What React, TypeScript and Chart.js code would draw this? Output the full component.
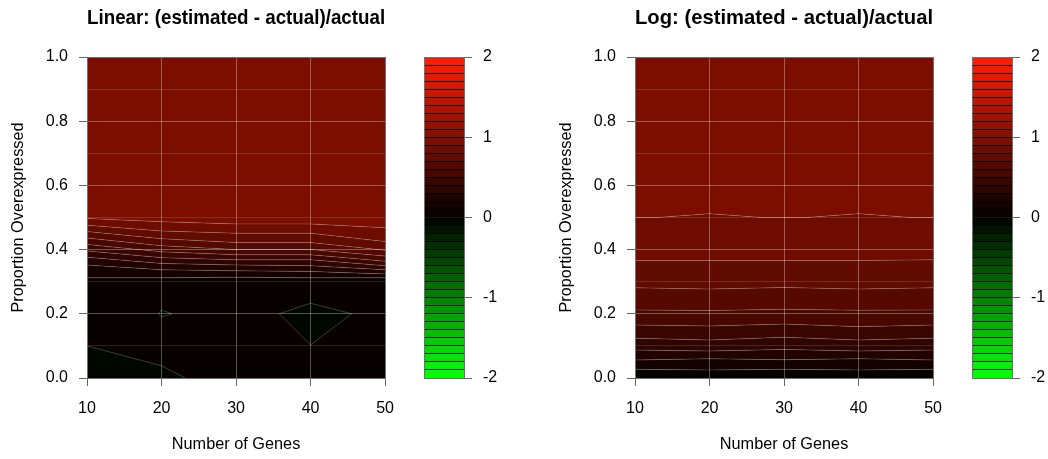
import React, { useEffect, useRef } from "react";
import { Chart, registerables } from "chart.js";

Chart.register(...registerables);

const FONT = "'Liberation Sans', Arial, Helvetica, sans-serif";

// ---------- data ----------
const GENES = [10, 20, 30, 40, 50];
const CONTOUR_LEVELS = [0.9, 0.8, 0.7, 0.6, 0.5, 0.4, 0.3, 0.2, 0.1];

// Linear panel: y (proportion) of each contour level at GENES
const LIN_C09 = [0.497, 0.487, 0.48, 0.48, 0.468];
const LIN_C08 = [0.476, 0.458, 0.451, 0.451, 0.425];
const LIN_C07 = [0.456, 0.434, 0.422, 0.422, 0.398];
const LIN_C06 = [0.436, 0.412, 0.4, 0.4, 0.38];
const LIN_C05 = [0.416, 0.393, 0.384, 0.384, 0.364];
const LIN_C04 = [0.396, 0.375, 0.368, 0.368, 0.35];
const LIN_C03 = [0.376, 0.357, 0.352, 0.35, 0.337];
const LIN_C02 = [0.352, 0.337, 0.334, 0.332, 0.324];
const LIN_C01 = [0.312, 0.312, 0.314, 0.312, 0.312];

// Linear panel: small negative pockets
const POCKET_VALUE = -0.05;
const DIAMOND_X = [35.8, 40, 45.5, 40, 35.8];
const DIAMOND_Y = [0.2, 0.233, 0.2, 0.103, 0.2];
const SMALL_X = [19.6, 20, 21.4, 20, 19.6];
const SMALL_Y = [0.2, 0.212, 0.2, 0.19, 0.2];
const CORNER_X = [10, 20, 23.2];
const CORNER_Y = [0.1, 0.038, 0];

// Log panel
const LOG_BUMP_X = [10, 13, 20, 27, 33, 40, 47, 50];
const LOG_C09 = [0.5, 0.5, 0.512, 0.5, 0.5, 0.512, 0.5, 0.5];
const LOG_C08 = [0.366, 0.366, 0.366, 0.366, 0.368];
const LOG_C07 = [0.281, 0.277, 0.282, 0.277, 0.281];
const LOG_C06 = [0.212, 0.21, 0.214, 0.211, 0.212];
const LOG_C05 = [0.165, 0.162, 0.168, 0.16, 0.165];
const LOG_C04 = [0.124, 0.118, 0.127, 0.118, 0.124];
const LOG_C03 = [0.087, 0.084, 0.089, 0.084, 0.087];
const LOG_C02 = [0.056, 0.06, 0.057, 0.06, 0.056];
const LOG_C01 = [0.027, 0.025, 0.027, 0.025, 0.027];

// Colour key breaks
const KEY_BREAKS = [
  -2, -1.9, -1.8, -1.7, -1.6, -1.5, -1.4, -1.3, -1.2, -1.1, -1, -0.9, -0.8, -0.7,
  -0.6, -0.5, -0.4, -0.3, -0.2, -0.1, 0, 0.1, 0.2, 0.3, 0.4, 0.5, 0.6, 0.7, 0.8,
  0.9, 1, 1.1, 1.2, 1.3, 1.4, 1.5, 1.6, 1.7, 1.8, 1.9, 2,
];

const LIN_TITLE = "Linear: (estimated - actual)/actual";
const LOG_TITLE = "Log: (estimated - actual)/actual";
const X_TITLE = "Number of Genes";
const Y_TITLE = "Proportion Overexpressed";

// ---------- style ----------
const SEAM = "rgba(255,255,255,0.22)";
const GRID_MAJOR = "rgba(255,255,255,0.32)";
const GRID_MINOR = "rgba(255,255,255,0.13)";
const TICK_COL = "#666";
const FRAME_COL = "#707070";
const H = 459;

function bandColor(v: number): string {
  const i = Math.min(39, Math.max(0, Math.floor((v + 2) / 0.1 + 1e-6)));
  const s = (i / 39) * 2 - 1;
  if (s >= 0) return `rgb(${Math.round(255 * s)},${Math.round(255 * s * 0.11)},0)`;
  return `rgb(0,${Math.round(-255 * s)},0)`;
}

const framePlugin = {
  id: "frame",
  afterDraw(chart: any) {
    const { ctx, chartArea: a } = chart;
    ctx.save();
    ctx.strokeStyle = FRAME_COL;
    ctx.lineWidth = 1;
    const l = Math.round(a.left) + 0.5;
    const t = Math.round(a.top) + 0.5;
    const r = Math.round(a.right) + 0.5;
    const b = Math.round(a.bottom) + 0.5;
    ctx.strokeRect(l, t, r - l, b - t);
    ctx.restore();
  },
};

type Contour = { xs: number[]; ys: number[] };
type Pocket = { xs: number[]; ys: number[]; fill: string };

function pts(xs: number[], ys: number[]) {
  return xs.map((x, i) => ({ x, y: ys[i] }));
}

function plotConfig(title: string, contours: Contour[], pockets: Pocket[]): any {
  const datasets: any[] = [];
  datasets.push({
    data: pts(GENES, GENES.map(() => 1)),
    showLine: true,
    borderColor: "transparent",
    fill: false,
  });
  contours.forEach((c, k) => {
    datasets.push({
      data: pts(c.xs, c.ys),
      showLine: true,
      borderColor: SEAM,
      borderWidth: 0.8,
      fill: "-1",
      backgroundColor: bandColor(CONTOUR_LEVELS[k] + 0.05),
    });
  });
  datasets.push({
    data: pts(GENES, GENES.map(() => 0)),
    showLine: true,
    borderColor: "transparent",
    fill: "-1",
    backgroundColor: bandColor(CONTOUR_LEVELS[CONTOUR_LEVELS.length - 1] - 0.05),
  });
  pockets.forEach((p) => {
    datasets.push({
      data: pts(p.xs, p.ys),
      showLine: true,
      borderColor: "rgba(255,255,255,0.28)",
      borderWidth: 0.8,
      fill: p.fill,
      backgroundColor: bandColor(POCKET_VALUE),
      order: -1,
    });
  });

  const isMajor = (v: number) => Math.round(v * 10) % 2 === 0;

  return {
    type: "scatter",
    data: { datasets },
    plugins: [framePlugin],
    options: {
      responsive: false,
      animation: false,
      events: [],
      layout: { padding: { left: 0, right: 0, top: 0, bottom: 0 } },
      elements: { point: { radius: 0 }, line: { tension: 0 } },
      plugins: {
        legend: { display: false },
        tooltip: { enabled: false },
        title: {
          display: true,
          text: title,
          fullSize: false,
          color: "#000",
          font: { family: FONT, size: 21, weight: "bold", lineHeight: 1.2 },
          padding: { top: 5.4, bottom: 26.4 },
        },
      },
      scales: {
        x: {
          type: "linear",
          min: 10,
          max: 50,
          ticks: {
            stepSize: 10,
            padding: 13,
            color: "#000",
            maxRotation: 0,
            autoSkip: false,
            font: { family: FONT, size: 16 },
          },
          grid: { z: 1, color: GRID_MAJOR, tickColor: TICK_COL, tickLength: 8, lineWidth: 1 },
          border: { display: false },
          title: {
            display: true,
            text: X_TITLE,
            color: "#000",
            font: { family: FONT, size: 16.3, lineHeight: 1.2 },
            padding: { top: 0, bottom: 4.4 },
          },
          afterFit: (s: any) => {
            s.height = 81;
          },
        },
        y: {
          type: "linear",
          min: 0,
          max: 1,
          ticks: {
            stepSize: 0.1,
            padding: 11,
            color: "#000",
            autoSkip: false,
            font: { family: FONT, size: 16 },
            callback: (v: any) => (isMajor(Number(v)) ? Number(v).toFixed(1) : ""),
          },
          grid: {
            z: 1,
            lineWidth: 1,
            tickLength: 8,
            color: (c: any) => (isMajor(c.tick ? c.tick.value : 0) ? GRID_MAJOR : GRID_MINOR),
            tickColor: (c: any) => (isMajor(c.tick ? c.tick.value : 0) ? TICK_COL : "transparent"),
          },
          border: { display: false },
          title: {
            display: true,
            text: Y_TITLE,
            color: "#000",
            font: { family: FONT, size: 16.3, lineHeight: 1.2 },
            padding: { top: 9, bottom: 0 },
          },
          afterFit: (s: any) => {
            s.width = 87;
          },
        },
      },
    },
  };
}

function keyConfig(axisWidth: number): any {
  const datasets: any[] = [];
  for (let i = 0; i < KEY_BREAKS.length - 1; i++) {
    const lo = KEY_BREAKS[i];
    const hi = KEY_BREAKS[i + 1];
    datasets.push({
      data: [[lo, hi]],
      backgroundColor: bandColor((lo + hi) / 2),
      borderWidth: 0,
      grouped: false,
      barPercentage: 1,
      categoryPercentage: 1,
    });
  }
  const isInt = (v: number) => Math.abs(v - Math.round(v)) < 1e-6;
  return {
    type: "bar",
    data: { labels: [""], datasets },
    plugins: [framePlugin],
    options: {
      responsive: false,
      animation: false,
      events: [],
      layout: { padding: { left: 24, right: 0, top: 57, bottom: 81 } },
      plugins: { legend: { display: false }, tooltip: { enabled: false }, title: { display: false } },
      scales: {
        x: { display: false },
        y: {
          position: "right",
          min: -2,
          max: 2,
          ticks: {
            stepSize: 0.1,
            maxTicksLimit: 100,
            autoSkip: false,
            padding: 11,
            color: "#000",
            font: { family: FONT, size: 16 },
            callback: (v: any) => (isInt(Number(v)) ? String(Math.round(Number(v))) : ""),
          },
          grid: {
            z: 1,
            drawOnChartArea: true,
            lineWidth: 1,
            tickLength: 8,
            color: "rgba(0,0,0,0.85)",
            tickColor: (c: any) => (isInt(c.tick ? c.tick.value : 0.5) ? TICK_COL : "transparent"),
          },
          border: { display: false },
          afterFit: (s: any) => {
            s.width = axisWidth;
          },
        },
      },
    },
  };
}

function ChartCanvas({ left, width, build }: { left: number; width: number; build: () => any }) {
  const ref = useRef<HTMLCanvasElement>(null);
  useEffect(() => {
    const chart = new Chart(ref.current as HTMLCanvasElement, build());
    return () => chart.destroy();
  }, []);
  return (
    <canvas
      ref={ref}
      width={width}
      height={H}
      style={{ position: "absolute", left, top: 0, width, height: H }}
    />
  );
}

const LIN_CONTOURS: Contour[] = [LIN_C09, LIN_C08, LIN_C07, LIN_C06, LIN_C05, LIN_C04, LIN_C03, LIN_C02, LIN_C01].map(
  (ys) => ({ xs: GENES, ys })
);
const LIN_POCKETS: Pocket[] = [
  { xs: DIAMOND_X, ys: DIAMOND_Y, fill: "shape" },
  { xs: SMALL_X, ys: SMALL_Y, fill: "shape" },
  { xs: CORNER_X, ys: CORNER_Y, fill: "origin" },
];
const LOG_CONTOURS: Contour[] = [
  { xs: LOG_BUMP_X, ys: LOG_C09 },
  ...[LOG_C08, LOG_C07, LOG_C06, LOG_C05, LOG_C04, LOG_C03, LOG_C02, LOG_C01].map((ys) => ({ xs: GENES, ys })),
];

export default function App() {
  return (
    <div style={{ position: "fixed", left: 0, top: 0, width: 1048, height: H, background: "#fff", overflow: "hidden" }}>
      <ChartCanvas left={0} width={407} build={() => plotConfig(LIN_TITLE, LIN_CONTOURS, LIN_POCKETS)} />
      <ChartCanvas left={548} width={407} build={() => plotConfig(LOG_TITLE, LOG_CONTOURS, [])} />
      <ChartCanvas left={400} width={110} build={() => keyConfig(46)} />
      <ChartCanvas left={948} width={100} build={() => keyConfig(36)} />
    </div>
  );
}
